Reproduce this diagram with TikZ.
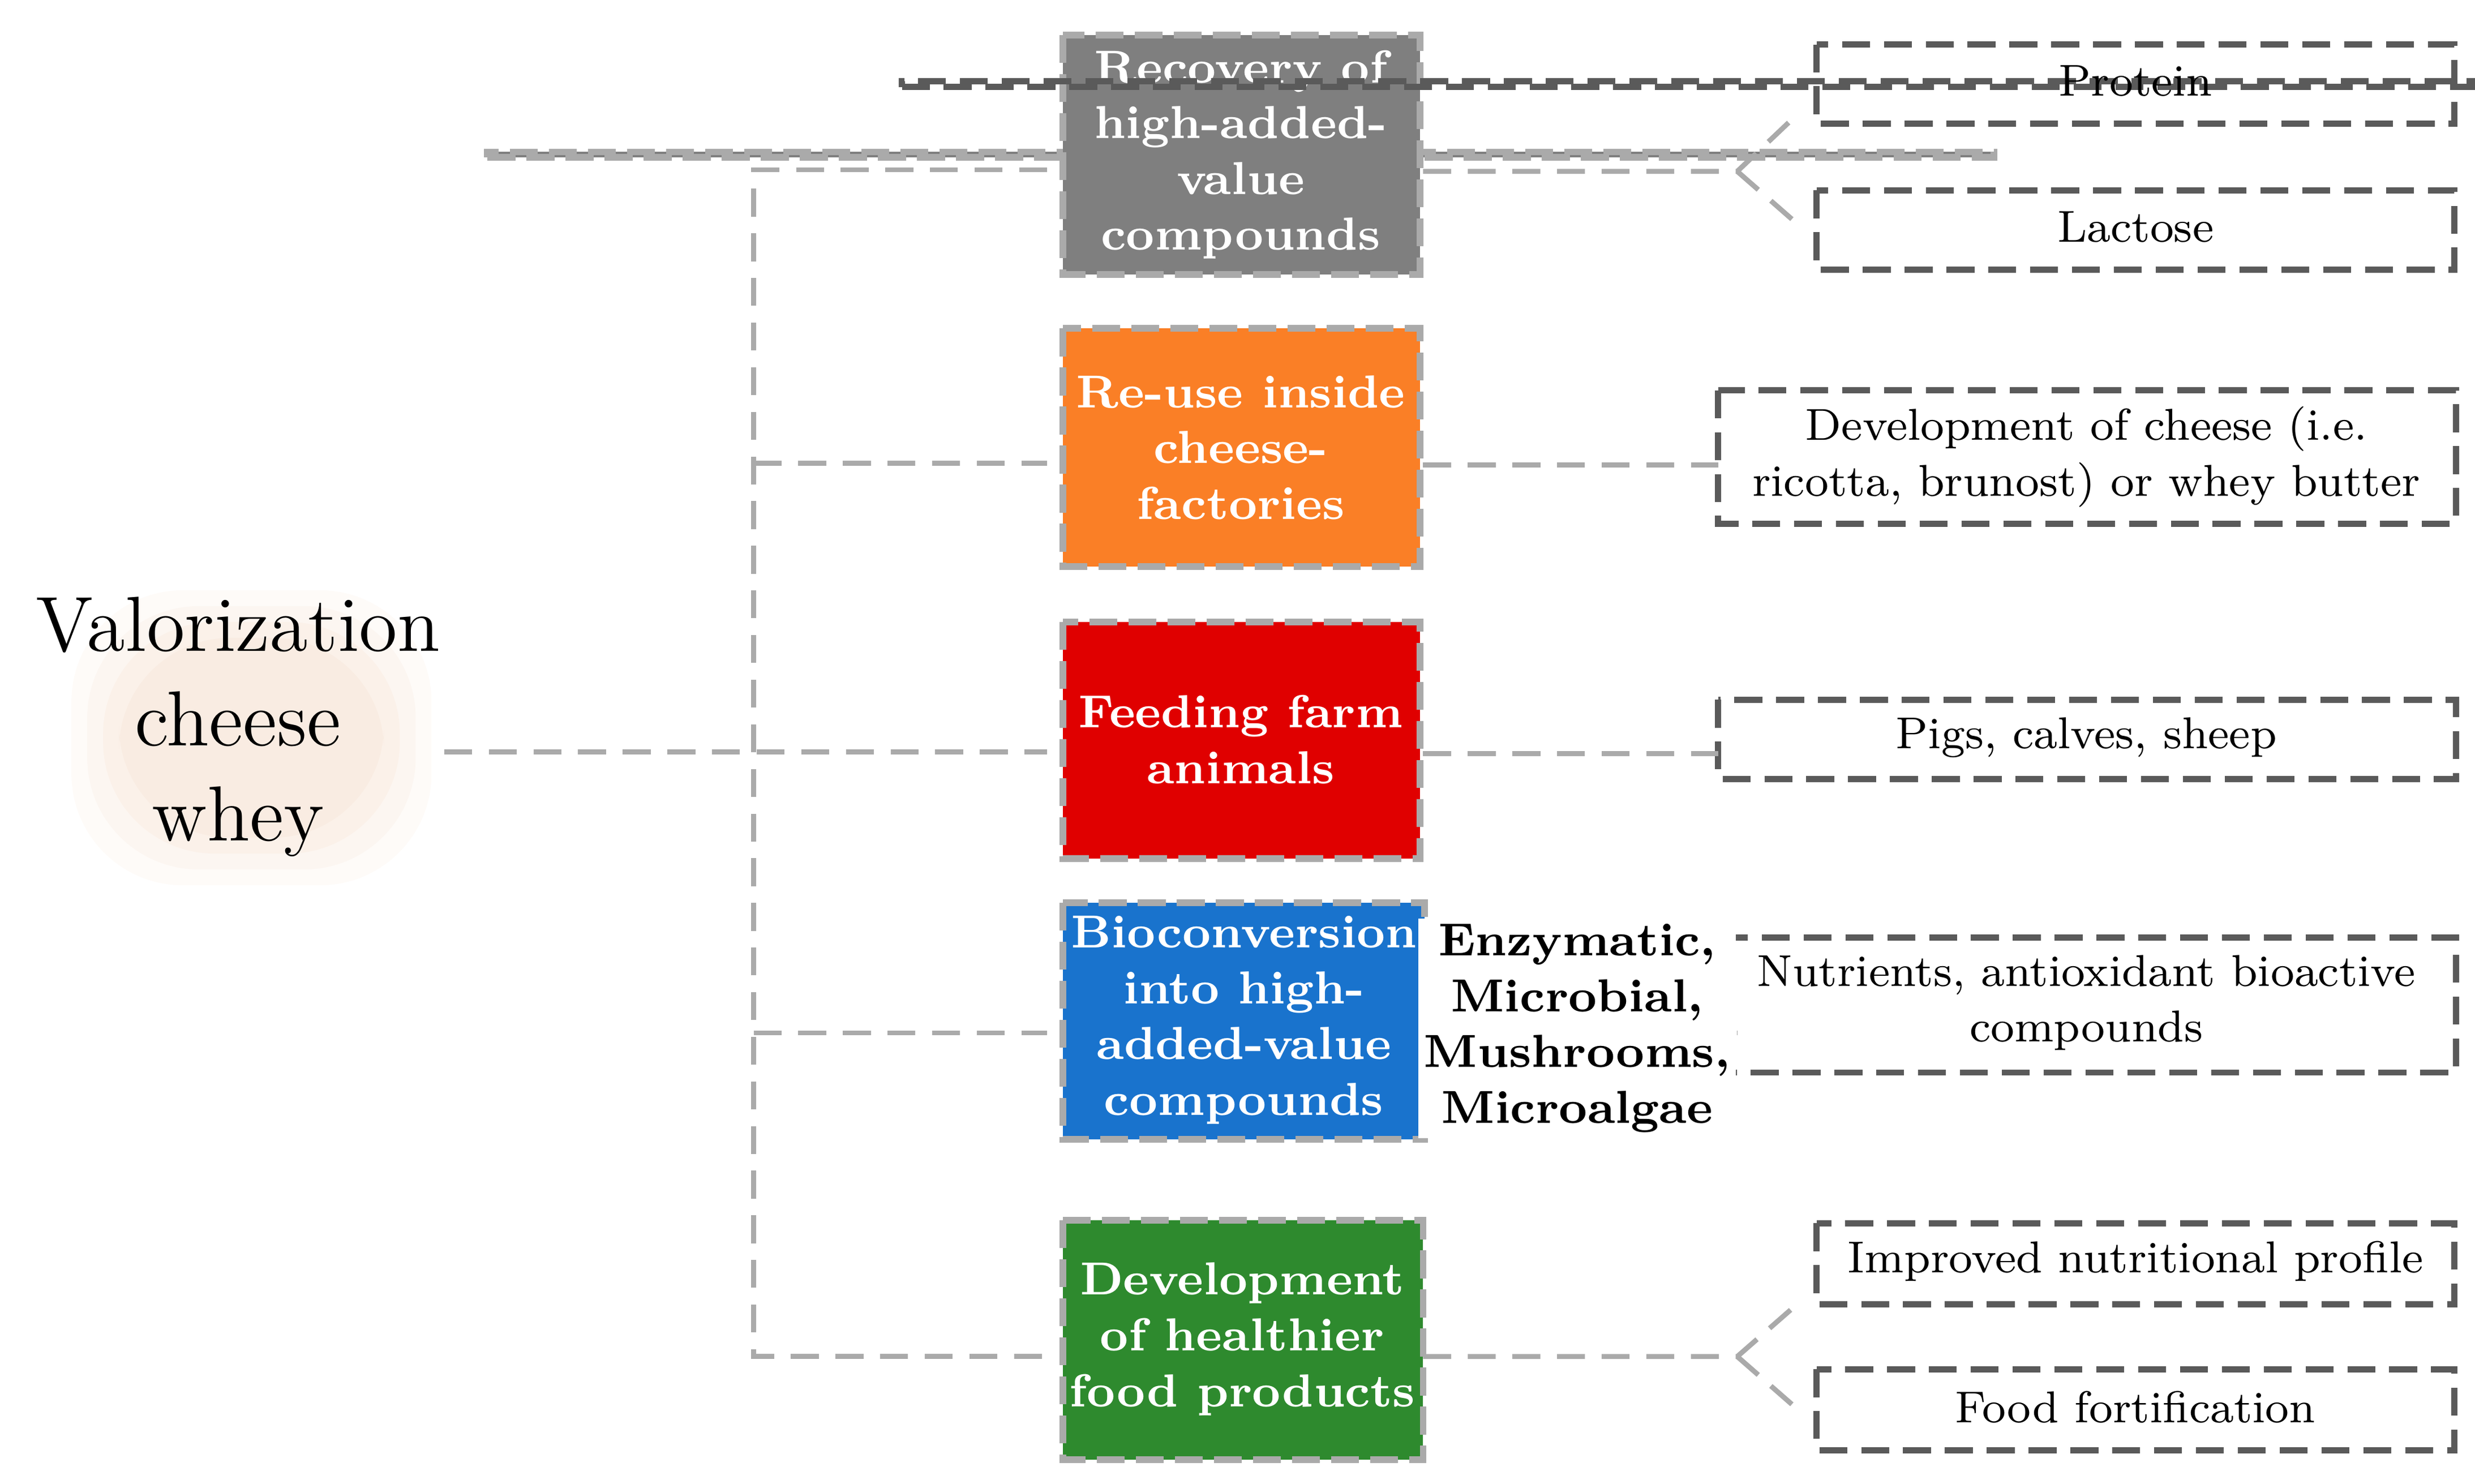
\documentclass[tikz,border=0pt]{standalone}
\usetikzlibrary{positioning}
\definecolor{cgray}{RGB}{127,127,127}
\definecolor{corange}{RGB}{250,127,38}
\definecolor{cred}{RGB}{224,0,0}
\definecolor{cblue}{RGB}{25,115,205}
\definecolor{cgreen}{RGB}{46,138,46}
\definecolor{lgray}{RGB}{170,170,170}
\definecolor{dgray}{RGB}{90,90,90}
\definecolor{peach}{RGB}{246,226,210}
\tikzset{
 mainbox/.style={draw=lgray,line width=1.2pt,dash pattern=on 5pt off 2pt,text=white,font=\fontsize{8.3}{10}\selectfont\bfseries,align=center,inner sep=0pt},
 outbox/.style={draw=dgray,line width=1.1pt,dash pattern=on 5pt off 2.5pt,font=\fontsize{8}{10}\selectfont,align=center,inner sep=0pt},
 conn/.style={draw=lgray,line width=0.9pt,dash pattern=on 5pt off 3pt}
}
\begin{document}
\begin{tikzpicture}[x=0.01cm,y=-0.01cm]
\useasboundingbox (0,0) rectangle (1560,935);
% title background
\foreach \o/\d in {0.15/0,0.2/10,0.25/20,0.3/30}{
 \fill[peach,opacity=\o,rounded corners=20] (45+\d,372+\d) rectangle (272-\d,558-\d);}
\node[font=\fontsize{14}{17}\selectfont,align=center] (title) at (150,458) {Valorization\\cheese\\whey};
% main boxes
\node[mainbox,fill=cgray,minimum width=225\pgflinewidth] (b1) at (782,97.5) {};
\path[mainbox,fill=cgray] (670,22) rectangle (895,173);
\node[text=white,font=\fontsize{8.3}{10}\selectfont\bfseries,align=center] (t1) at (782,97.5) {Recovery of\\high-added-\\value\\compounds};
\path[mainbox,fill=corange] (670,207) rectangle (895,357);
\node[text=white,font=\fontsize{8.3}{10}\selectfont\bfseries,align=center] (t2) at (782,282) {Re-use inside\\cheese-\\factories};
\path[mainbox,fill=cred] (670,392) rectangle (895,541);
\node[text=white,font=\fontsize{8.3}{10}\selectfont\bfseries,align=center] (t3) at (782,466) {Feeding farm\\animals};
\path[mainbox,fill=cblue] (670,569) rectangle (898,718);
\node[text=white,font=\fontsize{8.3}{10}\selectfont\bfseries,align=center] (t4) at (784,643) {Bioconversion\\into high-\\added-value\\compounds};
\path[mainbox,fill=cgreen] (670,769) rectangle (897,920);
\node[text=white,font=\fontsize{8.3}{10}\selectfont\bfseries,align=center] (t5) at (783,844) {Development\\of healthier\\food products};
% trunk
\coordinate (tr0) at (475,107);
\coordinate (tr5) at (475,855);
\draw[conn] (660,107) -- (tr0) -- (tr5) -- (660,855);
\draw[conn] (475,292) -- (660,292);
\draw[conn] (title.east) ++(0,16) coordinate (te);
\draw[conn] (280,474) -- (660,474);
\draw[conn] (475,651) -- (660,651);
% right boxes
\node[outbox,minimum width=402\pgflinewidth] (o0) at (1346,53) {};
\path[outbox] (1145,28) rectangle (1547,78);
\node[font=\fontsize{8}{10}\selectfont] (p1) at (1346,51) {Protein};
\path[outbox] (1145,120) rectangle (1547,170);
\node[font=\fontsize{8}{10}\selectfont] (p2) at (1346,143) {Lactose};
\path[outbox] (1083,246) rectangle (1548,330);
\node[font=\fontsize{8}{10}\selectfont,align=center] (p3) at (1315,288) {Development of cheese (i.e.\\ricotta, brunost) or whey butter};
\path[outbox] (1083,441) rectangle (1548,491);
\node[font=\fontsize{8}{10}\selectfont] (p4) at (1315,465) {Pigs, calves, sheep};
\path[outbox] (1083,591) rectangle (1548,676);
\node[font=\fontsize{8}{10}\selectfont,align=center] (p5) at (1315,632) {Nutrients, antioxidant bioactive\\compounds};
\path[outbox] (1145,771) rectangle (1547,822);
\node[font=\fontsize{8}{10}\selectfont] (p6) at (1346,795) {Improved nutritional profile};
\path[outbox] (1145,863) rectangle (1547,914);
\node[font=\fontsize{8}{10}\selectfont] (p7) at (1346,887) {Food fortification};
% right connectors
\draw[conn] (897,108) -- (1095,108) -- (1135,70);
\draw[conn] (1095,108) -- (1135,143);
\draw[conn] (897,293) -- (1083,293);
\draw[conn] (897,475) -- (1083,475);
\draw[conn] (898,651) -- (1095,651);
\draw[conn] (897,855) -- (1095,855) -- (1135,820);
\draw[conn] (1095,855) -- (1135,890);
\node[font=\fontsize{8.3}{10}\selectfont\bfseries,align=center,fill=white,inner sep=1pt] (enz) at (994,648) {Enzymatic,\\Microbial,\\Mushrooms,\\Microalgae};
\end{tikzpicture}
\end{document}
